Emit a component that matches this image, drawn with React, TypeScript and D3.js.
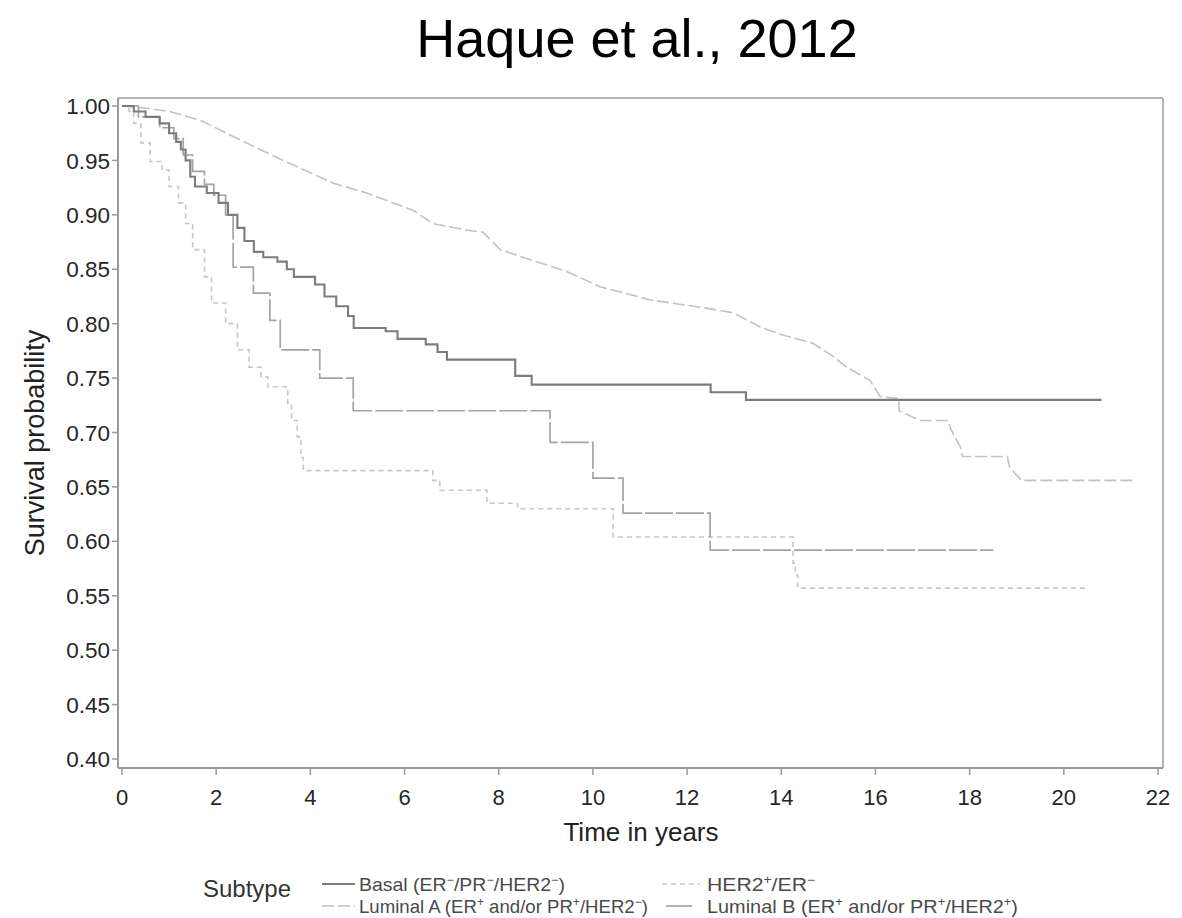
import React, { useEffect } from "react";
import * as d3 from "d3";

type Pt = [number, number];

const xTicks = [0, 2, 4, 6, 8, 10, 12, 14, 16, 18, 20, 22];
const yTicks = [0.4, 0.45, 0.5, 0.55, 0.6, 0.65, 0.7, 0.75, 0.8, 0.85, 0.9, 0.95, 1.0];

const basal: Pt[] = [
  [0, 1], [0.25, 0.995], [0.5, 0.99], [0.8, 0.984], [1.0, 0.975], [1.15, 0.967], [1.25, 0.96],
  [1.35, 0.95], [1.45, 0.935], [1.55, 0.926], [1.8, 0.92], [2.05, 0.911], [2.25, 0.9],
  [2.45, 0.888], [2.6, 0.876], [2.8, 0.866], [3.0, 0.861], [3.3, 0.857], [3.5, 0.85],
  [3.65, 0.843], [4.1, 0.836], [4.3, 0.825], [4.55, 0.816], [4.8, 0.807], [4.92, 0.796],
  [5.6, 0.793], [5.85, 0.786], [6.45, 0.781], [6.7, 0.774], [6.9, 0.767], [8.35, 0.752],
  [8.7, 0.744], [12.5, 0.737], [13.25, 0.73], [20.8, 0.73],
];

const luminalA: Pt[] = [
  [0, 1], [0.5, 0.998], [1.0, 0.995], [1.66, 0.987], [2.36, 0.972], [3.42, 0.95], [4.49, 0.929],
  [5.2, 0.92], [6.19, 0.904], [6.6, 0.892], [7.32, 0.886], [7.67, 0.884], [8.03, 0.868],
  [8.73, 0.858], [9.44, 0.848], [10.15, 0.834], [11.2, 0.822], [12.3, 0.815], [12.98, 0.81],
  [13.55, 0.797], [14.0, 0.79], [14.67, 0.782], [15.1, 0.77], [15.39, 0.76], [15.88, 0.748],
  [16.1, 0.733], [16.5, 0.731], [16.5, 0.72], [16.95, 0.711], [17.55, 0.711], [17.6, 0.703],
  [17.8, 0.687], [17.85, 0.678], [18.8, 0.678], [18.85, 0.668], [19.1, 0.656], [21.5, 0.656],
];

const luminalB: Pt[] = [
  [0, 1], [0.35, 0.99], [0.8, 0.98], [1.1, 0.97], [1.3, 0.955], [1.5, 0.94], [1.75, 0.928],
  [1.95, 0.918], [2.2, 0.9], [2.36, 0.852], [2.79, 0.828], [3.14, 0.803], [3.36, 0.776],
  [4.2, 0.75], [4.91, 0.72], [9.09, 0.691], [10.0, 0.658], [10.64, 0.626], [12.49, 0.592],
  [18.5, 0.592],
];

const her2: Pt[] = [
  [0, 1], [0.15, 0.995], [0.25, 0.984], [0.4, 0.966], [0.6, 0.949], [0.85, 0.941], [1.0, 0.926],
  [1.2, 0.911], [1.35, 0.892], [1.5, 0.868], [1.75, 0.843], [1.9, 0.819], [2.2, 0.8],
  [2.45, 0.776], [2.7, 0.76], [2.95, 0.751], [3.1, 0.742], [3.52, 0.727], [3.6, 0.711],
  [3.72, 0.696], [3.8, 0.677], [3.85, 0.665], [6.6, 0.656], [6.75, 0.647], [7.75, 0.635],
  [8.4, 0.63], [10.43, 0.604], [14.25, 0.58], [14.3, 0.569], [14.35, 0.557], [20.45, 0.557],
];

const FONT = "'Liberation Sans', Arial, Helvetica, sans-serif";

const W = 1182;
const H = 918;
const frame = { left: 118, right: 1163, top: 98, bottom: 768 };

const x = d3.scaleLinear().domain([0, 22]).range([122, 1158]);
const y = d3.scaleLinear().domain([0.4, 1]).range([759, 106]);

const stepLine = d3.line<Pt>().x((d) => x(d[0])).y((d) => y(d[1])).curve(d3.curveStepAfter);
const smoothLine = d3.line<Pt>().x((d) => x(d[0])).y((d) => y(d[1])).curve(d3.curveLinear);

const series = [
  { key: "luminalA", data: luminalA, gen: smoothLine, color: "#c2c2c2", width: 1.6, dash: "12,4" },
  { key: "her2", data: her2, gen: stepLine, color: "#c6c6c6", width: 1.6, dash: "5,4" },
  { key: "luminalB", data: luminalB, gen: stepLine, color: "#a4a4a4", width: 1.7, dash: "28,3" },
  { key: "basal", data: basal, gen: stepLine, color: "#7c7c7c", width: 2.1, dash: "none" },
];

const Sup = ({ s }: { s: string }) => (
  <tspan baselineShift="super" fontSize="12">{s}</tspan>
);

export default function App() {
  useEffect(() => {
    document.body.style.margin = "0";
  }, []);
  return (
    <svg width={W} height={H} style={{ display: "block", background: "#fff" }} fontFamily={FONT}>
      <rect x={0} y={0} width={W} height={H} fill="#fff" />
      <text x={637} y={57} textAnchor="middle" fontSize={54} fill="#000">Haque et al., 2012</text>

      {/* frame */}
      <line x1={frame.left} x2={frame.right} y1={frame.top} y2={frame.top} stroke="#b4b4b4" strokeWidth={2} />
      <line x1={frame.right} x2={frame.right} y1={frame.top} y2={frame.bottom} stroke="#b4b4b4" strokeWidth={2} />
      <line x1={frame.left} x2={frame.left} y1={frame.top} y2={frame.bottom} stroke="#9a9a9a" strokeWidth={2} />
      <line x1={frame.left} x2={frame.right} y1={frame.bottom} y2={frame.bottom} stroke="#9a9a9a" strokeWidth={2} />

      {/* y ticks */}
      {yTicks.map((t) => (
        <g key={"y" + t}>
          <line x1={frame.left - 6} x2={frame.left} y1={y(t)} y2={y(t)} stroke="#9a9a9a" strokeWidth={1.5} />
          <text x={frame.left - 8} y={y(t)} dy="0.36em" textAnchor="end" fontSize={22.5} fill="#262626">
            {t.toFixed(2)}
          </text>
        </g>
      ))}

      {/* x ticks */}
      {xTicks.map((t) => (
        <g key={"x" + t}>
          <line x1={x(t)} x2={x(t)} y1={frame.bottom} y2={frame.bottom + 7} stroke="#9a9a9a" strokeWidth={1.5} />
          <text x={x(t)} y={805} textAnchor="middle" fontSize={22} fill="#262626">{t}</text>
        </g>
      ))}

      <text x={641} y={841} textAnchor="middle" fontSize={26} fill="#222">Time in years</text>
      <text transform="translate(44,443) rotate(-90)" textAnchor="middle" fontSize={27} fill="#222">
        Survival probability
      </text>

      {/* curves */}
      {series.map((s) => (
        <path key={s.key} d={s.gen(s.data) || ""} fill="none" stroke={s.color} strokeWidth={s.width}
          strokeDasharray={s.dash} />
      ))}

      {/* legend */}
      <text x={203} y={897} fontSize={24} fill="#333">Subtype</text>
      <line x1={322} x2={355} y1={884} y2={884} stroke="#7c7c7c" strokeWidth={2} />
      <text x={359} y={891} fontSize={18.5} fill="#4a4a4a" textLength={206} lengthAdjust="spacingAndGlyphs">
        Basal (ER<Sup s="−" />/PR<Sup s="−" />/HER2<Sup s="−" />)
      </text>
      <line x1={322} x2={355} y1={906} y2={906} stroke="#c2c2c2" strokeWidth={1.6} strokeDasharray="12,4" />
      <text x={359} y={913} fontSize={18.5} fill="#4a4a4a" textLength={289} lengthAdjust="spacingAndGlyphs">
        Luminal A (ER<Sup s="+" /> and/or PR<Sup s="+" />/HER2<Sup s="−" />)
      </text>
      <line x1={662} x2={700} y1={884} y2={884} stroke="#c6c6c6" strokeWidth={1.6} strokeDasharray="5,4" />
      <text x={707} y={891} fontSize={18.5} fill="#4a4a4a" textLength={108} lengthAdjust="spacingAndGlyphs">
        HER2<Sup s="+" />/ER<Sup s="−" />
      </text>
      <line x1={666} x2={692} y1={906} y2={906} stroke="#a4a4a4" strokeWidth={1.7} />
      <text x={707} y={913} fontSize={18.5} fill="#4a4a4a" textLength={311} lengthAdjust="spacingAndGlyphs">
        Luminal B (ER<Sup s="+" /> and/or PR<Sup s="+" />/HER2<Sup s="+" />)
      </text>
    </svg>
  );
}
